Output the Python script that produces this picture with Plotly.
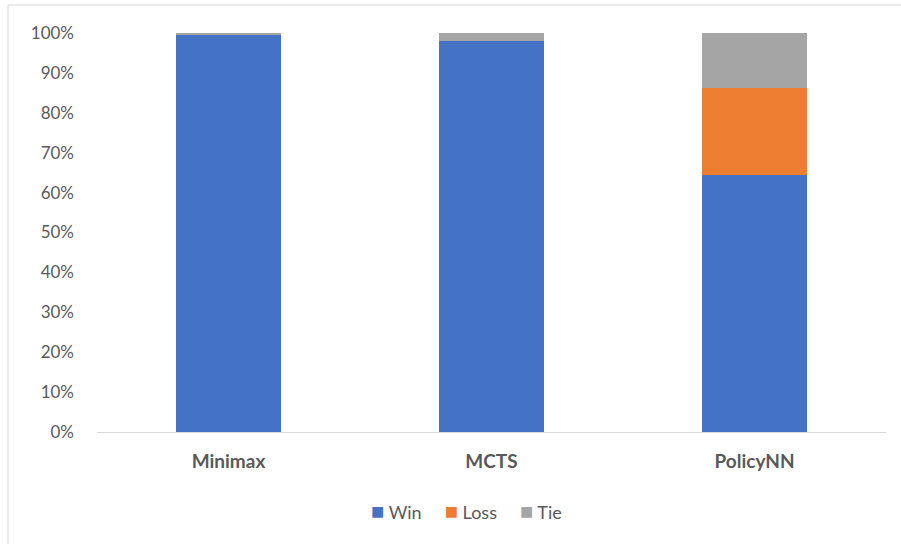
import plotly.graph_objects as go

# Game outcome share per agent
agents = ["Minimax", "MCTS", "PolicyNN"]
win = [0.995, 0.981, 0.645]
loss = [0.0, 0.0, 0.217]
tie = [0.005, 0.019, 0.138]

y_ticks = [i / 10 for i in range(11)]
y_tick_text = [f"{i * 10}%" for i in range(11)]

series = [
    ("Win", win, "#4472C4"),
    ("Loss", loss, "#ED7D31"),
    ("Tie", tie, "#A5A5A5"),
]

fig = go.Figure()
for name, vals, color in series:
    fig.add_trace(go.Bar(
        x=agents, y=vals, name=name,
        marker=dict(color=color, line=dict(width=0)),
        width=0.4,
    ))

font = "Lato, 'Open Sans', sans-serif"

# Compact legend: coloured square glyph followed by the series name
legend_text = "&nbsp;&nbsp;&nbsp;&nbsp;&nbsp;".join(
    f"<span style='color:{color};font-size:22px'>■</span>&nbsp;{name}"
    for name, _, color in series
)

fig.update_layout(
    barmode="stack",
    width=901, height=544,
    margin=dict(l=97, r=15, t=33, b=112),
    paper_bgcolor="white",
    plot_bgcolor="white",
    font=dict(family=font, size=16, color="#595959"),
    showlegend=False,
    xaxis=dict(
        showline=True, linecolor="#D9D9D9", linewidth=1,
        showgrid=False, ticks="",
        tickfont=dict(size=19, color="#595959", family=font, weight="bold"),
        ticklabelstandoff=12,
    ),
    yaxis=dict(
        range=[0, 1], tickvals=y_ticks, ticktext=y_tick_text,
        showgrid=False, zeroline=False, showline=False, ticks="",
        tickfont=dict(size=17, color="#595959"),
        ticklabelstandoff=22,
    ),
    annotations=[
        dict(text=legend_text, xref="paper", yref="paper",
             x=0.4677, y=-0.1955, xanchor="center", yanchor="middle",
             showarrow=False, font=dict(size=18, color="#595959", family=font)),
    ],
    shapes=[
        dict(type="line", xref="paper", yref="paper",
             x0=-0.1128, x1=1.03, y0=1.0702, y1=1.0702,
             line=dict(color="#D9D9D9", width=1)),
        dict(type="line", xref="paper", yref="paper",
             x0=-0.1128, x1=-0.1128, y0=-0.3, y1=1.0702,
             line=dict(color="#D9D9D9", width=1)),
    ],
)

fig.write_html("out.html")
